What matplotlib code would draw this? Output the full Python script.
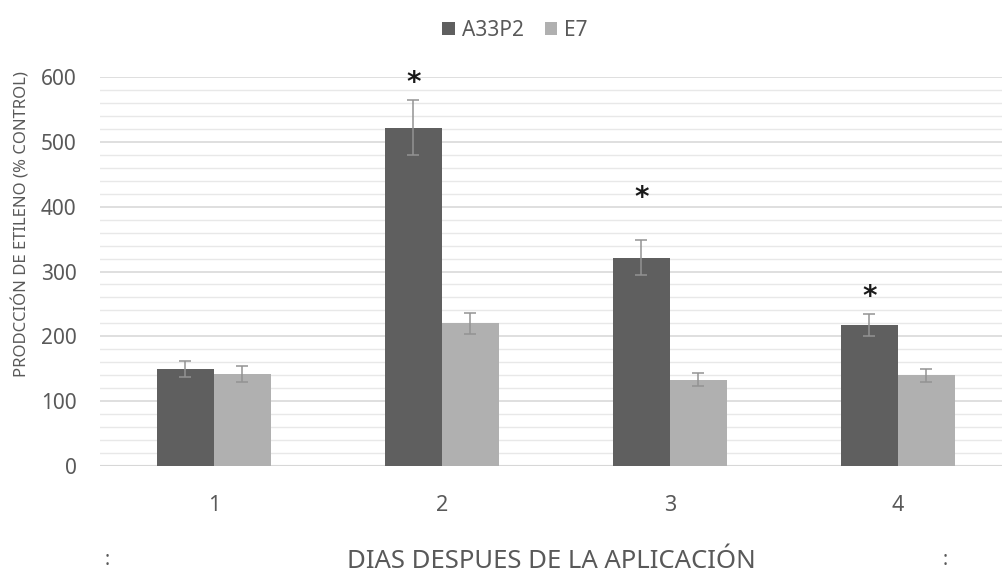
import numpy as np
import matplotlib.pyplot as plt
from matplotlib.ticker import MultipleLocator

# datos
dias = ["1", "2", "3", "4"]
a33p2 = [150, 522, 321, 218]
a33p2_err = [12, 43, 27, 17]
e7 = [142, 220, 133, 140]
e7_err = [12, 16, 10, 10]
asterisco_y = [None, 590, 413, 261]

plt.rcParams["font.family"] = ["Noto Sans", "DejaVu Sans"]

fig = plt.figure(figsize=(10.03, 5.8), dpi=100)
ax = fig.add_axes([100 / 1003, 114 / 580, 912 / 1003, 389 / 580])

x = np.arange(len(dias))
ancho = 0.25
err_kw = dict(ecolor="#939393", elinewidth=1.1, capsize=4, capthick=1.1)

ax.bar(x - ancho / 2, a33p2, ancho, yerr=a33p2_err, color="#5f5f5f",
       label="A33P2", error_kw=err_kw, zorder=3)
ax.bar(x + ancho / 2, e7, ancho, yerr=e7_err, color="#b0b0b0",
       label="E7", error_kw=err_kw, zorder=3)

# asteriscos de significancia sobre A33P2
for xi, yi in zip(x, asterisco_y):
    if yi is not None:
        ax.text(xi - ancho / 2, yi, "*", ha="center", va="center",
                fontsize=20, fontweight="bold", color="#1a1a1a",
                family="DejaVu Sans", zorder=4)

ax.set_xlim(-0.5, 3.5)
ax.set_ylim(0, 600)
ax.yaxis.set_major_locator(MultipleLocator(100))
ax.yaxis.set_minor_locator(MultipleLocator(20))
ax.grid(axis="y", which="major", color="#d9d9d9", lw=1.2, zorder=0)
ax.grid(axis="y", which="minor", color="#e8e8e8", lw=1.0, zorder=0)
for s in ax.spines.values():
    s.set_visible(False)
ax.axhline(0, color="#d0d0d0", lw=1.5, zorder=1)

ax.set_xticks(x)
ax.set_xticklabels(dias, fontsize=15.5, color="#595959")
ax.tick_params(axis="x", length=0, pad=21)
ax.tick_params(axis="y", which="both", length=0, pad=17, labelsize=15, labelcolor="#595959")
ax.tick_params(axis="y", which="minor", left=False)

fig.text(22 / 1003, 1 - 224 / 580, "PRODCCIÓN DE ETILENO (% CONTROL)", rotation=90,
         ha="center", va="center", fontsize=12, color="#595959")
fig.text(551 / 1003, 1 - 561 / 580, "DIAS DESPUES DE LA APLICACIÓN", ha="center",
         va="center", fontsize=18.5, color="#595959")
fig.text(107 / 1003, 1 - 560 / 580, ":", ha="center", va="center", fontsize=14, color="#595959")
fig.text(945 / 1003, 1 - 560 / 580, ":", ha="center", va="center", fontsize=14, color="#595959")

fig.legend(loc="center", bbox_to_anchor=(515 / 1003, 1 - 30 / 580), ncol=2, frameon=False,
           fontsize=15, handlelength=0.6, handleheight=0.6, handletextpad=0.35,
           columnspacing=1.0, labelcolor="#595959")

fig.savefig("out.png", dpi=100)
